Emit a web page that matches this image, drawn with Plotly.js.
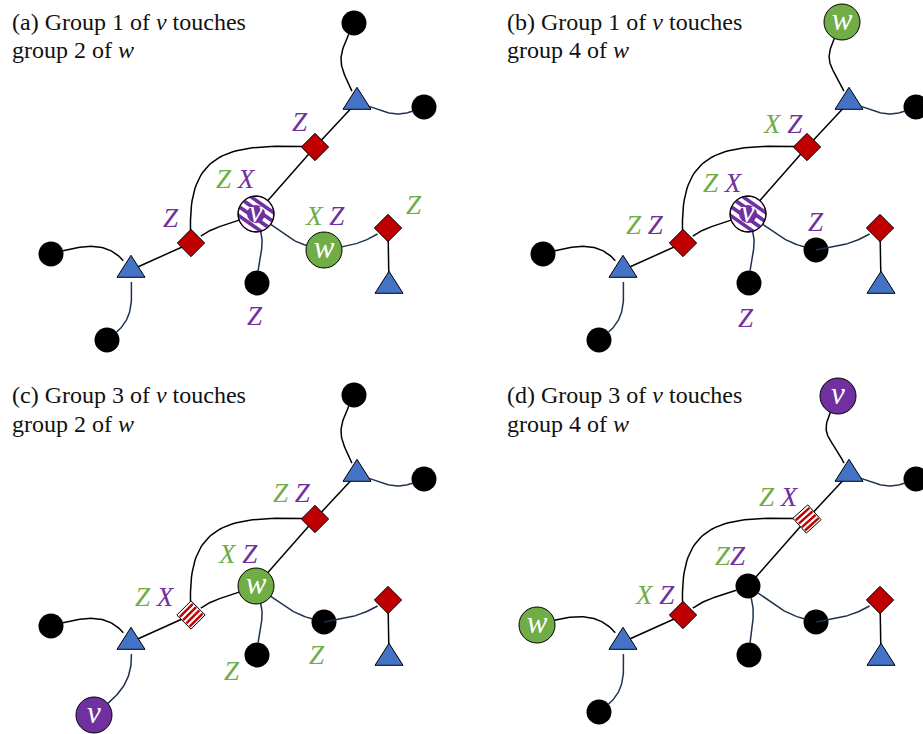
<!DOCTYPE html>
<html><head><meta charset="utf-8">
<script src="https://cdn.plot.ly/plotly-3.0.1.min.js"></script>
<style>html,body{margin:0;padding:0;background:#fff}#chart{width:923px;height:734px}</style>
</head><body><div id="chart"></div>
<script>
// ---------------- data ----------------
const nodeNames = ['C1','T1','C2','D1','V','D2','T2','C3','C4','C5','W','D3','T3'];
const nodeX = [354,357,424,315,256,191,131,51,107,257,324,388,389];
const nodeY = [23,102,107,147,214,243,270,254,340,283,250,228,286];
const panelDX = [0,492,0,492];
const panelDY = [0,0,372,372];
const panelKinds = [
  ['dot','tri','dot','dia','vhatch','dia','tri','dot','dot','dot','wbig','dia','tri'],
  ['wbig','tri','dot','dia','vhatch','dia','tri','dot','dot','dot','dot','dia','tri'],
  ['dot','tri','dot','dia','wbig','sq','tri','dot','vbig','dot','dot','dia','tri'],
  ['vbig','tri','dot','sq','dot','dia','tri','wbig','dot','dot','dot','dia','tri']
];
const movedNodes = [{}, {0:[842,22]}, {8:[94,715]}, {0:[838,396], 7:[537,625]}];
const squareAngle = [0,0,45,42];

const edgeFrom  = [0,1,1,3,3,5,5,7,6,4,4,10,11];
const edgeTo    = [1,2,3,4,5,4,6,6,8,9,10,11,12];
const edgeOut   = [245,340,null,null,178,35,null,15,272,285,325,10,null];
const edgeIn    = [115,200,null,null,92,200,null,130,40,85,165,210,null];
const edgeLoose = [1.3,1,1,1,1.4,1,1,1,1,1,1,1,1];
const edgeInk   = ['k','n','k','k','k','k','k','k','n','n','n','n','k'];
const edgeOver  = [0,0,0,0,0,0,0,0,0,0,0,1,0];

const titleLine1 = ['(a) Group 1 of <i>v</i> touches','(b) Group 1 of <i>v</i> touches','(c) Group 3 of <i>v</i> touches','(d) Group 3 of <i>v</i> touches'];
const titleLine2 = ['group 2 of <i>w</i>','group 4 of <i>w</i>','group 2 of <i>w</i>','group 4 of <i>w</i>'];

const labelX = [300,236,171,325,414,255, 783,723,645,816,746, 292,238,155,232,317, 779,730,655];
const labelY = [122,179,218,216,205,316, 124,183,225,222,318, 493,554,597,671,655, 497,556,595];
const labelText  = ['Z','Z X','Z','X Z','Z','Z', 'X Z','Z X','Z Z','Z','Z', 'Z Z','X Z','Z X','Z','Z', 'Z X','ZZ','X Z'];
const labelInk   = ['P','GP','P','GP','G','P', 'GP','GP','GP','P','P', 'GP','GP','GP','G','G', 'GP','GP','GP'];

// ---------------- styles ----------------
const C = {black:'#000000', navy:'#1f3150', red:'#c00000', blue:'#4472c4', green:'#70ad47', purple:'#7030a0', white:'#ffffff'};
const anchorR = {dot:12.5, wbig:18, vbig:18, vhatch:18, dia:12, tri:12, sq:12};
const serif = 'Liberation Serif';

function pos(p, i) {
  const m = movedNodes[p][i];
  if (m) return m;
  return [nodeX[i] + panelDX[p], nodeY[i] + panelDY[p]];
}

const under = {k:{x:[],y:[]}, n:{x:[],y:[]}};
const over = {k:{x:[],y:[]}, n:{x:[],y:[]}};
const rad = d => d*Math.PI/180;

for (let p = 0; p < 4; p++) {
  for (let e = 0; e < edgeFrom.length; e++) {
    const a = edgeFrom[e], b = edgeTo[e];
    const [ax, ay] = pos(p, a), [bx, by] = pos(p, b);
    const tgt = edgeOver[e] && panelKinds[p][a] === 'dot' ? over : under;
    const bucket = tgt[edgeInk[e]];
    if (edgeOut[e] === null) {
      bucket.x.push(ax, bx, null); bucket.y.push(ay, by, null);
      continue;
    }
    const o = rad(edgeOut[e]), i = rad(edgeIn[e]);
    const ra = (tgt === over) ? 0 : anchorR[panelKinds[p][a]];
    const rb = anchorR[panelKinds[p][b]];
    const p0 = [ax + ra*Math.cos(o), ay - ra*Math.sin(o)];
    const p3 = [bx + rb*Math.cos(i), by - rb*Math.sin(i)];
    const d = Math.hypot(p3[0]-p0[0], p3[1]-p0[1]);
    const c = 0.3915 * d * edgeLoose[e];
    const p1 = [p0[0] + c*Math.cos(o), p0[1] - c*Math.sin(o)];
    const p2 = [p3[0] + c*Math.cos(i), p3[1] - c*Math.sin(i)];
    for (let s = 0; s <= 40; s++) {
      const t = s/40, u = 1-t;
      bucket.x.push(u*u*u*p0[0] + 3*u*u*t*p1[0] + 3*u*t*t*p2[0] + t*t*t*p3[0]);
      bucket.y.push(u*u*u*p0[1] + 3*u*u*t*p1[1] + 3*u*t*t*p2[1] + t*t*t*p3[1]);
    }
    bucket.x.push(null); bucket.y.push(null);
  }
}

const traces = [];
const lineTrace = (b, col) => ({x:b.x, y:b.y, mode:'lines', line:{color:col, width:1.5}, hoverinfo:'skip', type:'scatter'});
traces.push(lineTrace(under.k, C.black), lineTrace(under.n, C.navy));

function poly(xs, ys, fill, lineCol, lw) {
  traces.push({x:xs.concat([xs[0]]), y:ys.concat([ys[0]]), type:'scatter', mode:'lines', fill:'toself',
    fillcolor:fill, line:{color:lineCol || fill, width: lw === undefined ? 0 : lw}, hoverinfo:'skip'});
}

const dots = {x:[], y:[]}, dias = {x:[], y:[]};
const bigs = {x:[], y:[], c:[], t:[]};
const hatchTop = {x:[], y:[]};
const letters = {x:[], y:[], t:[]};

for (let p = 0; p < 4; p++) {
  for (let i = 0; i < nodeX.length; i++) {
    const k = panelKinds[p][i];
    const [x, y] = pos(p, i);
    if (k === 'dot') { dots.x.push(x); dots.y.push(y); }
    else if (k === 'dia') { dias.x.push(x); dias.y.push(y); }
    else if (k === 'tri') {
      poly([x, x-14, x+14], [y-14.7, y+7.3, y+7.3], C.blue, C.black, 1);
    } else if (k === 'wbig' || k === 'vbig') {
      bigs.x.push(x); bigs.y.push(y); bigs.c.push(k === 'wbig' ? C.green : C.purple);
      letters.x.push(x); letters.y.push(y); letters.t.push(k === 'wbig' ? 'w' : 'v');
    } else if (k === 'sq') {
      const a = rad(squareAngle[p]), s = 10;
      const u = [Math.cos(a), -Math.sin(a)], v = [Math.sin(a), Math.cos(a)];
      const corner = (cu, cv) => [x + cu*u[0] + cv*v[0], y + cu*u[1] + cv*v[1]];
      const sqPts = [corner(-s,-s), corner(s,-s), corner(s,s), corner(-s,s)];
      poly(sqPts.map(q=>q[0]), sqPts.map(q=>q[1]), C.white, C.black, 1);
      for (let j = 0; j < 4; j++) {
        const v0 = -s + 2.2 + j*4.6, v1 = v0 + 2.4;
        const pts = [corner(-s+0.8, v0), corner(s-0.8, v0), corner(s-0.8, v1), corner(-s+0.8, v1)];
        poly(pts.map(q=>q[0]), pts.map(q=>q[1]), C.red);
      }
    } else if (k === 'vhatch') {
      hatchTop.x.push(x); hatchTop.y.push(y);
    }
  }
}

// hatched circles: purple base, white stripes, outline, centre patch, letter
traces.push({x:hatchTop.x, y:hatchTop.y, mode:'markers', type:'scatter', hoverinfo:'skip',
  marker:{symbol:'circle', size:36, color:C.purple, line:{color:C.black, width:1}}});
for (let h = 0; h < hatchTop.x.length; h++) {
  const cx = hatchTop.x[h], cy = hatchTop.y[h], R = 17.2;
  const ang = rad(35);
  const dvec = [Math.cos(ang), Math.sin(ang)], nvec = [-Math.sin(ang), Math.cos(ang)];
  for (let k = -3; k <= 3; k++) {
    let t0 = k*7.5 - 1.9, t1 = k*7.5 + 1.9;
    t0 = Math.max(t0, -R+0.3); t1 = Math.min(t1, R-0.3);
    if (t1 <= t0) continue;
    const xs = [], ys = [];
    for (let s = 0; s <= 8; s++) { const t = t0 + (t1-t0)*s/8, hh = Math.sqrt(R*R - t*t);
      xs.push(cx + t*nvec[0] + hh*dvec[0]); ys.push(cy + t*nvec[1] + hh*dvec[1]); }
    for (let s = 8; s >= 0; s--) { const t = t0 + (t1-t0)*s/8, hh = Math.sqrt(R*R - t*t);
      xs.push(cx + t*nvec[0] - hh*dvec[0]); ys.push(cy + t*nvec[1] - hh*dvec[1]); }
    poly(xs, ys, C.white);
  }
  letters.x.push(cx); letters.y.push(cy); letters.t.push('v');
}
traces.push({x:hatchTop.x, y:hatchTop.y, mode:'markers', type:'scatter', hoverinfo:'skip',
  marker:{symbol:'circle', size:18, color:C.purple, line:{width:0}}});
traces.push({x:hatchTop.x, y:hatchTop.y, mode:'markers', type:'scatter', hoverinfo:'skip',
  marker:{symbol:'circle-open', size:36, color:C.black, line:{color:C.black, width:1}}});

traces.push({x:dots.x, y:dots.y, mode:'markers', type:'scatter', hoverinfo:'skip',
  marker:{symbol:'circle', size:25, color:C.black, line:{width:0}}});
traces.push({x:dias.x, y:dias.y, mode:'markers', type:'scatter', hoverinfo:'skip',
  marker:{symbol:'diamond', size:21, color:C.red, line:{color:C.black, width:1}}});
traces.push({x:bigs.x, y:bigs.y, mode:'markers', type:'scatter', hoverinfo:'skip',
  marker:{symbol:'circle', size:36, color:bigs.c, line:{color:C.black, width:1}}});
traces.push({x:letters.x, y:letters.y, mode:'text', type:'scatter', hoverinfo:'skip',
  text:letters.t, textposition:'middle center',
  textfont:{family:serif, size:31, color:C.white, style:'italic'}});
traces.push(lineTrace(over.k, C.black), lineTrace(over.n, C.navy));

// annotations
const annotations = [];
const titleX = [10,505,10,505], titleY1 = [22,22,395,395], titleY2 = [50,50,424,424];
for (let p = 0; p < 4; p++) {
  annotations.push({x:titleX[p], y:titleY1[p], xref:'x', yref:'y', xanchor:'left', yanchor:'middle', align:'left',
    showarrow:false, text:titleLine1[p], font:{family:serif, size:24, color:'#111'}});
  annotations.push({x:titleX[p], y:titleY2[p], xref:'x', yref:'y', xanchor:'left', yanchor:'middle', align:'left',
    showarrow:false, text:titleLine2[p], font:{family:serif, size:24, color:'#111'}});
}
for (let l = 0; l < labelX.length; l++) {
  let ci = 0, html = '';
  for (const ch of labelText[l]) {
    if (ch === ' ') { html += ' '; continue; }
    const col = labelInk[l][ci++] === 'G' ? C.green : C.purple;
    html += '<span style="color:' + col + '">' + ch + '</span>';
  }
  annotations.push({x:labelX[l], y:labelY[l], xref:'x', yref:'y', xanchor:'center', yanchor:'middle',
    showarrow:false, text:html, font:{family:serif, size:27, style:'italic', color:C.purple}});
}

const layout = {
  width:923, height:734, margin:{l:0,r:0,t:0,b:0}, showlegend:false,
  paper_bgcolor:'#ffffff', plot_bgcolor:'#ffffff',
  xaxis:{range:[0,923], visible:false, fixedrange:true},
  yaxis:{range:[734,0], visible:false, fixedrange:true},
  annotations
};
Plotly.newPlot('chart', traces, layout, {staticPlot:true, displayModeBar:false});
</script></body></html>
